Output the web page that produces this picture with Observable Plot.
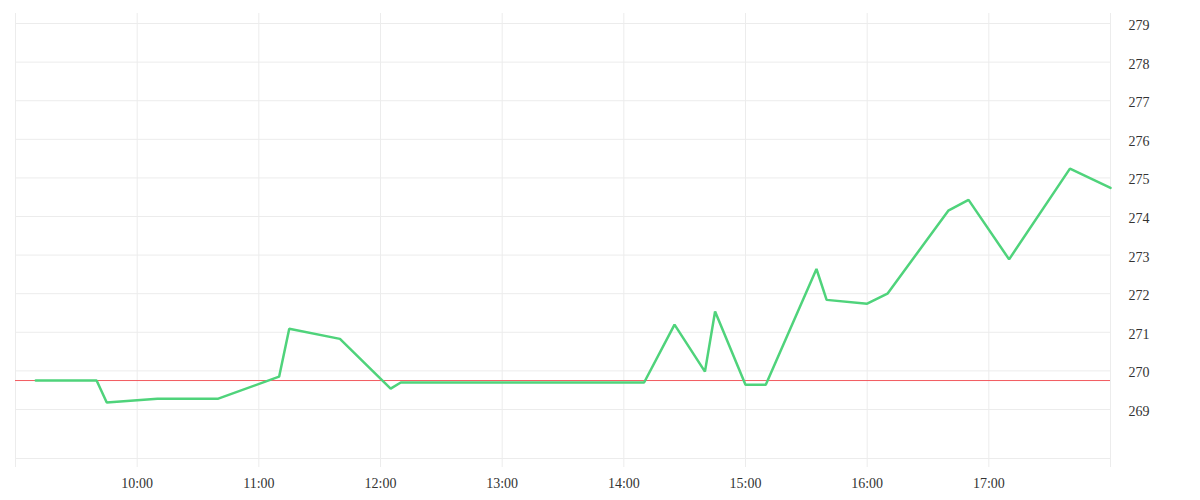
<!DOCTYPE html>
<html>
<head>
<meta charset="utf-8">
<script src="https://cdn.jsdelivr.net/npm/d3@7"></script>
<script src="https://cdn.jsdelivr.net/npm/@observablehq/plot@0.6"></script>
<style>
  html, body { margin: 0; padding: 0; background: #fff; }
  #chart svg { display: block; }
</style>
</head>
<body>
<div id="chart"></div>
<script>
// Data
const times = ["09:10","09:40","09:45","10:10","10:40","11:10","11:15","11:40","12:05","12:10","14:10","14:25","14:40","14:45","15:00","15:10","15:35","15:40","16:00","16:10","16:40","16:50","17:10","17:40","18:00"];
const prices = [269.75,269.75,269.18,269.28,269.28,269.85,271.09,270.83,269.54,269.70,269.70,271.20,269.98,271.54,269.64,269.64,272.64,271.84,271.74,272.00,274.15,274.43,272.89,275.24,274.74];
const referencePrice = 269.75;
const hourTicks = ["09:00","10:00","11:00","12:00","13:00","14:00","15:00","16:00","17:00","18:00"];
const hourLabels = ["","10:00","11:00","12:00","13:00","14:00","15:00","16:00","17:00",""];
const yTicks = [269,270,271,272,273,274,275,276,277,278,279];
const xDomain = ["09:00","18:00"];
const yDomain = [267.73, 279.26];

const toDate = s => { const [h, m] = s.split(":").map(Number); return new Date(2024, 0, 2, h, m); };
const series = times.map((t, i) => ({time: toDate(t), price: prices[i]}));
const tickDates = hourTicks.map(toDate);
const labelOf = new Map(tickDates.map((d, i) => [+d, hourLabels[i]]));

const chart = Plot.plot({
  width: 1200,
  height: 500,
  marginLeft: 15,
  marginRight: 90,
  marginTop: 13,
  marginBottom: 42,
  style: {fontFamily: "'Liberation Serif', serif", fontSize: "14px", color: "#333", background: "#fff"},
  x: {type: "time", domain: xDomain.map(toDate)},
  y: {domain: yDomain},
  marks: [
    Plot.gridY(yTicks, {stroke: "#ececec", strokeOpacity: 1}),
    Plot.gridX(tickDates, {stroke: "#ececec", strokeOpacity: 1}),
    Plot.frame({anchor: "bottom", stroke: "#ececec"}),
    Plot.axisX(tickDates, {tickSize: 9, tickPadding: 11, stroke: "#ececec", fill: "#333", strokeOpacity: 1, tickFormat: d => labelOf.get(+d), label: null}),
    Plot.axisY(yTicks, {anchor: "right", tickSize: 0, tickPadding: 18, textAnchor: "start", dy: 2, fill: "#333", label: null}),
    Plot.ruleY([referencePrice], {stroke: "#f25a5f", strokeWidth: 1}),
    Plot.line(series, {x: "time", y: "price", stroke: "#4fd37b", strokeWidth: 2.5, strokeLinejoin: "miter"})
  ]
});
document.getElementById("chart").append(chart);
</script>
</body>
</html>
